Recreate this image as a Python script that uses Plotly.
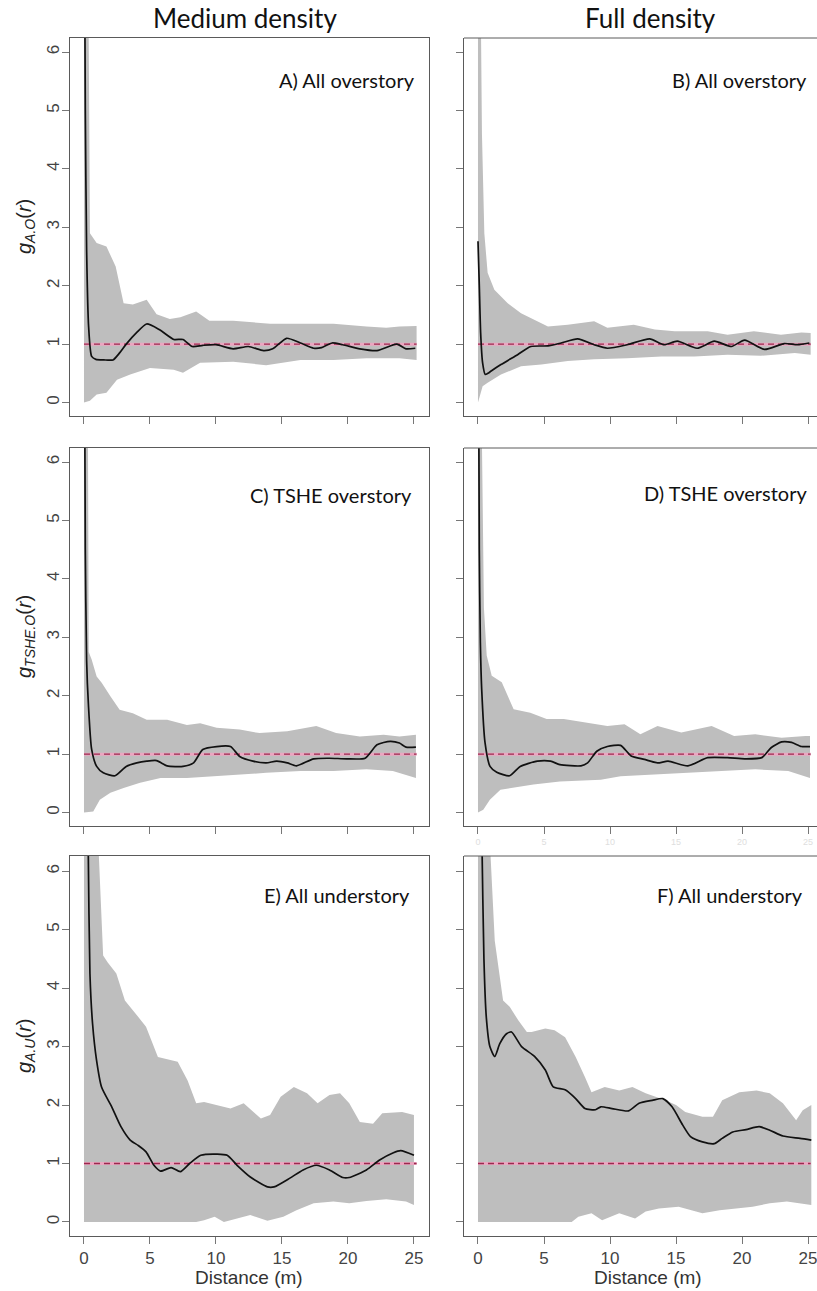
import plotly.graph_objects as go

# ---------------- data: pair-correlation g(r), envelope and observed ----------------
# Panel A  (medium density, all overstory)
rA_obs = [0.02, 0.1, 0.2, 0.35, 0.58, 0.9, 1.5, 2.2, 2.7, 3.2, 4.0, 4.75, 5.7, 6.8, 7.5, 8.2, 9.0, 10.0,
          11.3, 12.45, 13.6, 14.3, 15.35, 16.4, 17.4, 18.0, 18.8, 19.6, 20.9, 22.2, 23.7, 24.4, 25.1]
gA_obs = [9.0, 5.0, 2.6, 1.3, 0.79, 0.74, 0.73, 0.73, 0.85, 1.0, 1.2, 1.345, 1.25, 1.08, 1.08, 0.96, 0.98, 0.99,
          0.92, 0.96, 0.89, 0.92, 1.1, 1.02, 0.93, 0.94, 1.02, 0.99, 0.92, 0.89, 1.0, 0.92, 0.93]
rA_hi = [0.0, 0.35, 0.45, 0.96, 1.7, 2.4, 3.0, 3.7, 4.75, 5.5, 6.5, 7.3, 8.5, 9.5, 11.3, 12.8, 14.1, 16.4,
         18.9, 21.4, 22.9, 23.9, 25.2]
gA_hi = [12, 6.5, 2.9, 2.73, 2.67, 2.33, 1.70, 1.68, 1.76, 1.51, 1.43, 1.46, 1.56, 1.40, 1.40, 1.37, 1.35, 1.35,
         1.35, 1.30, 1.28, 1.30, 1.31]
rA_lo = [0.0, 0.45, 0.96, 1.7, 2.5, 3.5, 5.0, 6.8, 7.5, 8.8, 11.3, 13.8, 16.4, 18.9, 21.4, 23.9, 25.2]
gA_lo = [0.0, 0.03, 0.14, 0.17, 0.39, 0.48, 0.59, 0.56, 0.51, 0.68, 0.70, 0.64, 0.73, 0.73, 0.76, 0.76, 0.73]

# Panel B  (full density, all overstory)
rB_obs = [0.0, 0.1, 0.2, 0.35, 0.55, 0.75, 1.0, 1.74, 3.0, 4.0, 5.3, 6.3, 7.55, 8.8, 9.8, 11.3, 13.0, 14.1,
          15.1, 16.6, 17.9, 19.2, 20.2, 21.7, 23.2, 24.2, 25.1]
gB_obs = [2.76, 2.0, 1.2, 0.68, 0.48, 0.5, 0.54, 0.65, 0.82, 0.96, 0.97, 1.02, 1.09, 0.99, 0.93, 0.99, 1.09, 0.99,
          1.05, 0.93, 1.05, 0.96, 1.07, 0.91, 1.01, 0.99, 1.02]
rB_hi = [0.0, 0.2, 0.3, 0.48, 0.73, 1.24, 2.25, 3.26, 4.27, 5.3, 6.8, 7.7, 8.8, 9.8, 11.8, 13.4, 14.9, 17.4,
         18.9, 20.9, 22.95, 24.5, 25.2]
gB_hi = [12, 6.5, 4.6, 2.9, 2.22, 1.93, 1.70, 1.53, 1.42, 1.30, 1.33, 1.36, 1.39, 1.28, 1.33, 1.25, 1.22, 1.22,
         1.16, 1.22, 1.16, 1.20, 1.19]
rB_lo = [0.0, 0.35, 0.73, 1.74, 3.26, 4.8, 6.8, 8.8, 11.3, 13.9, 16.4, 18.9, 21.4, 24.0, 25.2]
gB_lo = [0.0, 0.28, 0.34, 0.48, 0.62, 0.65, 0.71, 0.74, 0.76, 0.79, 0.79, 0.82, 0.80, 0.85, 0.82]

# Panel C  (medium density, TSHE overstory)
rC_obs = [0.02, 0.1, 0.2, 0.33, 0.58, 0.96, 1.46, 2.35, 3.2, 4.0, 4.75, 5.5, 6.3, 7.5, 8.3, 9.0, 10.05, 11.1,
          11.8, 12.8, 13.8, 14.6, 15.4, 16.1, 17.4, 18.6, 19.9, 21.3, 22.2, 23.2, 23.9, 24.4, 25.15]
gC_obs = [9.0, 4.5, 2.6, 1.87, 1.08, 0.79, 0.68, 0.63, 0.79, 0.85, 0.88, 0.89, 0.80, 0.79, 0.85, 1.08, 1.13, 1.13,
          0.96, 0.88, 0.85, 0.88, 0.85, 0.80, 0.92, 0.93, 0.92, 0.93, 1.16, 1.22, 1.19, 1.12, 1.12]
rC_hi = [0.0, 0.3, 0.36, 0.58, 0.96, 1.34, 2.0, 2.7, 3.7, 4.75, 6.3, 7.8, 8.8, 10.05, 11.8, 13.3, 15.4, 17.6,
         19.1, 20.9, 22.7, 23.9, 25.15]
gC_hi = [12, 6.5, 2.75, 2.62, 2.33, 2.22, 1.99, 1.76, 1.70, 1.59, 1.59, 1.50, 1.53, 1.45, 1.42, 1.36, 1.39, 1.48,
         1.36, 1.30, 1.33, 1.30, 1.33]
rC_lo = [0.0, 0.7, 1.2, 2.0, 3.0, 4.25, 5.8, 7.8, 9.8, 11.8, 13.8, 16.4, 18.9, 21.4, 23.4, 25.15]
gC_lo = [0.0, 0.02, 0.22, 0.34, 0.42, 0.51, 0.59, 0.59, 0.62, 0.65, 0.68, 0.71, 0.71, 0.74, 0.71, 0.59]

# Panel D  (full density, TSHE overstory)
rD_obs = [0.02, 0.1, 0.18, 0.28, 0.53, 0.91, 1.42, 2.4, 3.2, 4.5, 5.5, 6.2, 7.8, 8.3, 9.0, 9.8, 10.8, 11.6,
          12.6, 13.6, 14.4, 15.9, 17.4, 18.9, 20.2, 21.5, 22.2, 23.0, 23.75, 24.5, 25.15]
gD_obs = [9.0, 4.5, 2.9, 2.11, 1.20, 0.79, 0.69, 0.63, 0.79, 0.88, 0.88, 0.82, 0.80, 0.85, 1.05, 1.13, 1.15, 0.97,
          0.91, 0.85, 0.88, 0.80, 0.94, 0.94, 0.92, 0.94, 1.11, 1.21, 1.20, 1.13, 1.13]
rD_hi = [0.0, 0.3, 0.45, 0.66, 1.04, 1.8, 2.7, 3.96, 5.2, 6.5, 8.3, 9.8, 11.1, 12.3, 13.6, 15.4, 17.7, 19.4,
         21.0, 23.0, 24.8, 25.15]
gD_hi = [12, 6.3, 3.5, 2.69, 2.34, 2.23, 1.77, 1.71, 1.60, 1.60, 1.54, 1.48, 1.51, 1.34, 1.48, 1.37, 1.48, 1.31,
         1.34, 1.28, 1.31, 1.31]
rD_lo = [0.0, 0.4, 0.9, 1.7, 2.7, 4.2, 6.2, 9.3, 10.8, 13.3, 15.9, 18.4, 21.0, 23.5, 25.15]
gD_lo = [0.0, 0.05, 0.22, 0.39, 0.42, 0.48, 0.53, 0.56, 0.62, 0.65, 0.68, 0.71, 0.74, 0.71, 0.59]

# Panel E  (medium density, all understory)
rE_obs = [0.1, 0.2, 0.33, 0.45, 0.65, 0.95, 1.33, 2.1, 2.8, 3.5, 4.1, 4.7, 5.3, 5.8, 6.6, 7.3, 8.0, 8.85,
          10.1, 10.85, 11.6, 12.6, 13.9, 14.4, 15.6, 16.6, 17.6, 18.6, 19.6, 20.1, 21.4, 22.4, 23.4, 24.0, 25.0]
gE_obs = [14, 9.0, 6.2, 4.25, 3.39, 2.77, 2.31, 1.97, 1.63, 1.40, 1.31, 1.20, 0.97, 0.87, 0.93, 0.86, 1.0, 1.14,
          1.16, 1.14, 0.97, 0.77, 0.60, 0.60, 0.75, 0.89, 0.97, 0.89, 0.76, 0.76, 0.89, 1.06, 1.18, 1.22, 1.14]
rE_hi = [0.0, 1.1, 1.45, 1.8, 2.45, 3.1, 4.1, 4.7, 5.6, 6.5, 7.1, 7.85, 8.5, 9.1, 10.1, 11.1, 12.1, 13.4,
         14.1, 14.9, 15.9, 16.9, 17.7, 18.6, 19.4, 20.1, 20.9, 21.9, 22.6, 24.1, 25.0]
gE_hi = [14, 6.4, 4.56, 4.44, 4.25, 3.79, 3.51, 3.34, 2.82, 2.77, 2.74, 2.42, 2.03, 2.05, 2.0, 1.94, 2.03, 1.77,
         1.83, 2.14, 2.31, 2.20, 2.03, 2.17, 2.20, 2.03, 1.71, 1.68, 1.86, 1.88, 1.83]
rE_lo = [0.0, 8.5, 9.1, 9.9, 10.6, 11.6, 12.6, 13.9, 15.1, 16.1, 17.4, 18.9, 20.1, 21.4, 22.9, 24.4, 25.0]
gE_lo = [0.0, 0.0, 0.03, 0.09, 0.0, 0.06, 0.12, 0.02, 0.09, 0.2, 0.32, 0.35, 0.32, 0.36, 0.39, 0.35, 0.29]

# Panel F  (full density, all understory)
rF_obs = [0.05, 0.15, 0.3, 0.45, 0.63, 0.9, 1.27, 1.65, 2.16, 2.54, 3.3, 4.3, 5.1, 5.7, 6.6, 7.4, 8.1, 8.9,
          9.3, 10.15, 11.4, 12.2, 13.2, 14.0, 14.7, 15.5, 16.1, 17.0, 17.9, 18.5, 19.3, 20.3, 21.3, 22.1, 23.1,
          24.4, 25.25]
gF_obs = [14, 9.0, 6.5, 4.5, 3.5, 3.0, 2.83, 3.05, 3.22, 3.25, 3.0, 2.83, 2.60, 2.31, 2.26, 2.11, 1.94, 1.92,
          1.97, 1.94, 1.90, 2.03, 2.08, 2.11, 1.97, 1.66, 1.46, 1.37, 1.34, 1.43, 1.54, 1.58, 1.63, 1.57, 1.47,
          1.43, 1.40]
rF_hi = [0.0, 0.9, 1.27, 1.9, 2.4, 3.05, 3.7, 4.06, 5.1, 5.8, 6.6, 7.4, 8.1, 8.6, 9.6, 10.7, 11.7, 12.7,
         14.2, 15.0, 15.7, 17.0, 17.8, 18.5, 19.8, 21.1, 22.1, 23.1, 24.1, 24.6, 25.25]
gF_hi = [14, 6.5, 4.81, 3.79, 3.68, 3.45, 3.25, 3.25, 3.31, 3.28, 3.16, 2.82, 2.48, 2.22, 2.31, 2.25, 2.31, 2.20,
         2.08, 2.0, 1.88, 1.80, 1.80, 2.08, 2.22, 2.25, 2.20, 2.03, 1.74, 1.91, 2.0]
rF_lo = [0.0, 7.1, 7.6, 8.6, 9.4, 10.7, 11.9, 12.7, 13.7, 15.2, 17.0, 18.3, 19.5, 20.8, 22.1, 23.4, 25.25]
gF_lo = [0.0, 0.0, 0.09, 0.15, 0.03, 0.15, 0.06, 0.18, 0.23, 0.26, 0.15, 0.2, 0.23, 0.26, 0.32, 0.35, 0.29]

# theoretical value under complete spatial randomness
r_csr = [0.0, 25.2]
g_csr = [1.0, 1.0]

panel_labels = ["A) All overstory", "B) All overstory", "C) TSHE overstory",
                "D) TSHE overstory", "E) All understory", "F) All understory"]
column_titles = ["Medium density", "Full density"]
row_ytitles = ["<i>g</i><sub><i>A.O</i></sub>(<i>r</i>)",
               "<i>g</i><sub><i>TSHE.O</i></sub>(<i>r</i>)",
               "<i>g</i><sub><i>A.U</i></sub>(<i>r</i>)"]
x_ticks = [0, 5, 10, 15, 20, 25]
y_ticks = [0, 1, 2, 3, 4, 5, 6]
x_title = "Distance (m)"

panels = [
    (rA_obs, gA_obs, rA_hi, gA_hi, rA_lo, gA_lo),
    (rB_obs, gB_obs, rB_hi, gB_hi, rB_lo, gB_lo),
    (rC_obs, gC_obs, rC_hi, gC_hi, rC_lo, gC_lo),
    (rD_obs, gD_obs, rD_hi, gD_hi, rD_lo, gD_lo),
    (rE_obs, gE_obs, rE_hi, gE_hi, rE_lo, gE_lo),
    (rF_obs, gF_obs, rF_hi, gF_hi, rF_lo, gF_lo),
]

# ---------------- layout geometry (pixels) ----------------
W, H = 817, 1291
def px(x):
    return x / W
def py(y):
    return 1 - y / H

col_px = [(70, 429), (464, 817)]
row_px = [(38, 416), (448, 826), (856, 1236)]
x_ranges = [[-1.06, 26.14], [-1.06, 25.68]]
y_ranges = [[-0.23, 6.24], [-0.23, 6.24], [-0.24, 6.26]]

SANS = "Liberation Sans, Arial, sans-serif"
TICK_FONT = dict(family=SANS, size=17, color="#444444")
LABEL_FONT = "Lato, Open Sans, sans-serif"
FRAME = "#5a5a5a"

fig = go.Figure()
layout = dict(
    width=W, height=H,
    margin=dict(l=0, r=0, t=0, b=0),
    paper_bgcolor="white", plot_bgcolor="white",
    showlegend=False,
)

for i, (r_obs, g_obs, r_hi, g_hi, r_lo, g_lo) in enumerate(panels):
    row, col = divmod(i, 2)
    n = i + 1
    xa = "x" if n == 1 else f"x{n}"
    ya = "y" if n == 1 else f"y{n}"

    # simulation envelope
    fig.add_trace(go.Scatter(
        x=list(r_hi) + list(r_lo)[::-1], y=list(g_hi) + list(g_lo)[::-1],
        fill="toself", fillcolor="#bebebe", mode="lines", line=dict(width=0, color="#bebebe"),
        xaxis=xa, yaxis=ya, hoverinfo="skip"))
    # CSR reference line (pink band with dark dashes)
    fig.add_trace(go.Scatter(x=r_csr, y=g_csr, mode="lines",
                             line=dict(color="#eaa6c0", width=3), xaxis=xa, yaxis=ya))
    fig.add_trace(go.Scatter(x=r_csr, y=g_csr, mode="lines",
                             line=dict(color="#9a2a4e", width=1.3, dash="6px,4px"), xaxis=xa, yaxis=ya))
    # observed function
    fig.add_trace(go.Scatter(x=r_obs, y=g_obs, mode="lines",
                             line=dict(color="#111111", width=1.7, shape="spline", smoothing=0.6),
                             xaxis=xa, yaxis=ya))

    x0, x1 = col_px[col]
    y0, y1 = row_px[row]
    bottom_row = row == 2
    if bottom_row:
        xfont = TICK_FONT
    else:
        xfont = dict(family=SANS, size=9, color="#dedede")
    xaxis = dict(
        domain=[px(x0), px(x1)], range=x_ranges[col], anchor=ya,
        tickmode="array", tickvals=x_ticks, ticks="outside", ticklen=7, tickcolor="#777777",
        showticklabels=bottom_row or n == 4, tickfont=xfont, ticklabeloverflow="allow",
        showline=True, linecolor=FRAME, linewidth=1, mirror=(col == 0),
        showgrid=False, zeroline=False, fixedrange=True,
    )
    yaxis = dict(
        domain=[py(y1), py(y0)], range=y_ranges[row], anchor=xa,
        tickmode="array", tickvals=y_ticks, ticks="outside", ticklen=7, tickcolor="#777777",
        showticklabels=(col == 0), tickangle=-90, tickfont=TICK_FONT, ticklabelstandoff=-4,
        showline=True, linecolor=FRAME, linewidth=1, mirror=(col == 0),
        showgrid=False, zeroline=False, fixedrange=True,
    )
    key = "" if n == 1 else str(n)
    layout["xaxis" + key] = xaxis
    layout["yaxis" + key] = yaxis

fig.update_layout(**layout)

shapes = []
# top border of the right-hand panels (their right edge runs off the page)
for row in range(3):
    y0, _ = row_px[row]
    shapes.append(dict(type="line", xref="paper", yref="paper",
                       x0=px(col_px[1][0]), x1=1.0, y0=py(y0), y1=py(y0),
                       line=dict(color=FRAME, width=1)))
fig.update_layout(shapes=shapes)

ann = []
# column headings
for cx, title in zip([245, 650], column_titles):
    ann.append(dict(text=title, x=px(cx), y=py(18), xref="paper", yref="paper",
                    showarrow=False, xanchor="center", yanchor="middle",
                    font=dict(family=LABEL_FONT, size=26, color="#111111")))
# panel tags
label_pos = [(417, 80), (809, 80), (414, 495), (809, 493), (412, 895), (805, 895)]
for text, (lx, ly) in zip(panel_labels, label_pos):
    ann.append(dict(text=text, x=px(lx), y=py(ly), xref="paper", yref="paper",
                    showarrow=False, xanchor="right", yanchor="middle",
                    font=dict(family=LABEL_FONT, size=20, color="#111111")))
# y-axis titles
for row, text in enumerate(row_ytitles):
    cy = (row_px[row][0] + row_px[row][1]) / 2
    ann.append(dict(text=text, x=px(25), y=py(cy), xref="paper", yref="paper",
                    showarrow=False, textangle=-90, xanchor="center", yanchor="middle",
                    font=dict(family=SANS, size=20, color="#222222")))
# x-axis titles
for cx in [249, 648]:
    ann.append(dict(text=x_title, x=px(cx), y=py(1277), xref="paper", yref="paper",
                    showarrow=False, xanchor="center", yanchor="middle",
                    font=dict(family=SANS, size=19, color="#333333")))
fig.update_layout(annotations=ann)

fig.write_html("out.html")
